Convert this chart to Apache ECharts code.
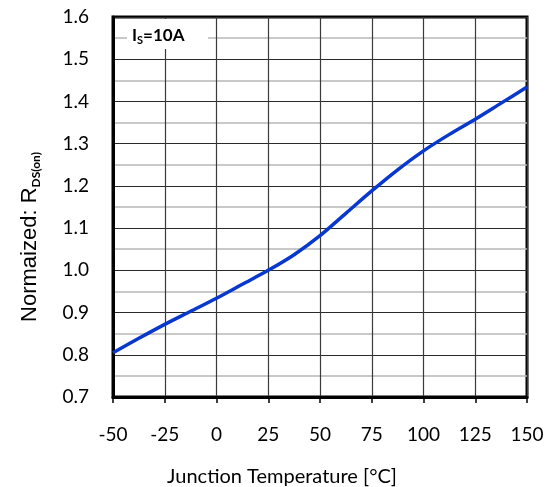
<!DOCTYPE html>
<html>
<head>
<meta charset="utf-8">
<script src="https://cdn.jsdelivr.net/npm/echarts@6/dist/echarts.min.js"></script>
<style>
html,body{margin:0;padding:0;background:#fff;}
#chart{width:554px;height:487px;}
</style>
</head>
<body>
<div id="chart"></div>
<script>
var temperatures = [-50, -37.5, -25, -12.5, 0, 12.5, 25, 37.5, 50, 62.5, 75, 87.5, 100, 112.5, 125, 137.5, 150];
var normalizedRds = [0.805, 0.839, 0.872, 0.903, 0.934, 0.967, 1.0, 1.037, 1.082, 1.135, 1.188, 1.238, 1.283, 1.322, 1.358, 1.396, 1.434];
var xTicks = [-50, -25, 0, 25, 50, 75, 100, 125, 150];
var yTicks = [0.7, 0.8, 0.9, 1.0, 1.1, 1.2, 1.3, 1.4, 1.5, 1.6];
var xAxisTitle = 'Junction Temperature [°C]';
var yAxisTitleMain = 'Normaized: R';
var yAxisTitleSub = 'DS(on)';
var boxLabelMain = 'I';
var boxLabelSub = 'S';
var boxLabelRest = '=10A';

var chart = echarts.init(document.getElementById('chart'), null, {renderer: 'canvas'});
var pts = temperatures.map(function (t, i) { return [t, normalizedRds[i]]; });

var option = {
  animation: false,
  backgroundColor: '#fff',
  grid: {
    left: 113, right: 27, top: 17, bottom: 90,
    containLabel: false,
    outerBoundsMode: 'none',
    show: true, borderColor: '#000', borderWidth: 3, backgroundColor: 'transparent'
  },
  xAxis: {
    type: 'value',
    min: xTicks[0], max: xTicks[xTicks.length - 1], interval: 25,
    name: xAxisTitle,
    nameLocation: 'middle',
    nameGap: 70,
    nameTextStyle: {fontFamily: 'Lato', fontSize: 20, color: '#000', padding: [0, 76, 0, 0]},
    axisLine: {show: true, onZero: false, lineStyle: {color: '#000', width: 3}},
    axisTick: {show: true, inside: false, length: 6, lineStyle: {color: '#000', width: 1.5}},
    axisLabel: {fontFamily: 'Lato', fontSize: 19, color: '#000', margin: 28,
      formatter: function (v) { return String(v); }},
    splitLine: {show: true, lineStyle: {color: '#3a3a3a', width: 1.2}}
  },
  yAxis: {
    type: 'value',
    min: yTicks[0], max: yTicks[yTicks.length - 1], interval: 0.1,
    axisLine: {show: true, onZero: false, lineStyle: {color: '#000', width: 3}},
    axisTick: {show: false},
    axisLabel: {fontFamily: 'Lato', fontSize: 19, color: '#000', margin: 24,
      formatter: function (v) { return v.toFixed(1); }},
    splitLine: {show: true, lineStyle: {color: '#2a2a2a', width: 1.2}},
    minorTick: {show: true, splitNumber: 2, length: 0, lineStyle: {width: 0}},
    minorSplitLine: {show: true, lineStyle: {color: '#b8b8b8', width: 1.5}}
  },
  graphic: [
    {
      type: 'rect', z: 100,
      shape: {x: 127, y: 19, width: 81, height: 30},
      style: {fill: '#fff'}
    },
    {
      type: 'text', z: 101,
      x: 132, y: 36,
      style: {
        text: '{a|' + boxLabelMain + '}{s|' + boxLabelSub + '}{a|' + boxLabelRest + '}',
        rich: {
          a: {fontFamily: 'Lato', fontWeight: 'bold', fontSize: 17, fill: '#000'},
          s: {fontFamily: 'Lato', fontWeight: 'bold', fontSize: 11, fill: '#000', padding: [8, 0, 0, 0]}
        },
        verticalAlign: 'middle', align: 'left'
      }
    },
    {
      type: 'text', z: 101,
      x: 30, y: 237, rotation: Math.PI / 2,
      style: {
        text: '{a|' + yAxisTitleMain + '}{s|' + yAxisTitleSub + '}',
        rich: {
          a: {fontFamily: 'Liberation Sans', fontSize: 22, fill: '#000'},
          s: {fontFamily: 'Lato', fontWeight: 'bold', fontSize: 12, fill: '#000', padding: [12, 0, 0, 0]}
        },
        align: 'center', verticalAlign: 'middle'
      }
    }
  ],
  series: [{
    type: 'line',
    data: pts,
    smooth: 0.3,
    showSymbol: false,
    lineStyle: {color: '#0838cc', width: 3.5},
    z: 10
  }]
};
chart.setOption(option);
</script>
</body>
</html>
